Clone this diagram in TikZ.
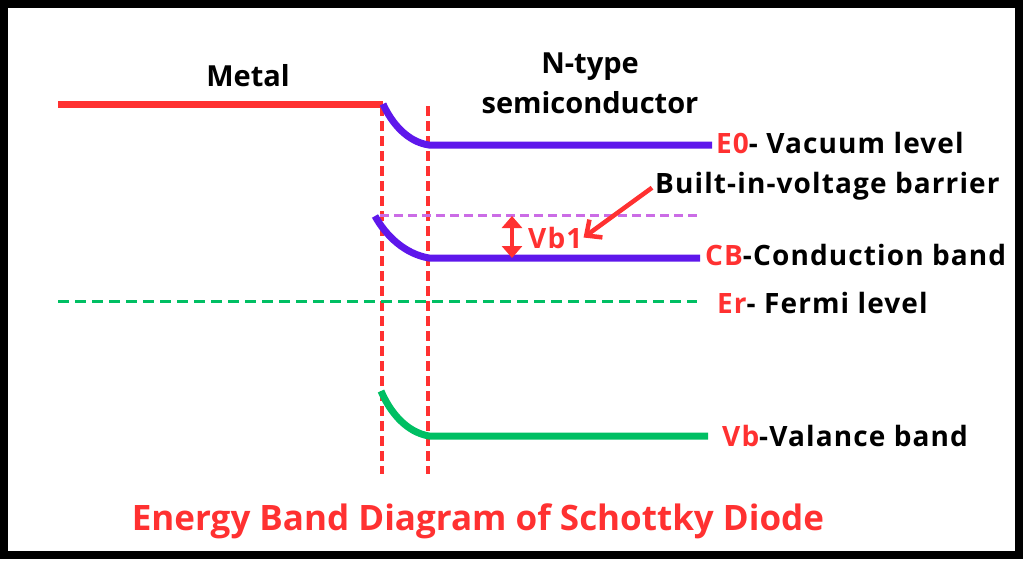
\documentclass[tikz,border=0pt]{standalone}
\usepackage{fontspec}
\setmainfont{Open Sans}
\usetikzlibrary{arrows.meta}
\definecolor{bandRed}{HTML}{FF3131}
\definecolor{bandPurple}{HTML}{5E17EB}
\definecolor{bandGreen}{HTML}{00BF63}
\definecolor{barrierViolet}{HTML}{CB6CE6}
\tikzset{
    bandline/.style={line width=7pt},
    boundary/.style={draw=bandRed,line width=4pt,dash pattern=on 10pt off 5pt},
    levelline/.style={line width=3pt,dash pattern=on 11pt off 6pt},
    levelnote/.style={font=\fontsize{28}{32}\selectfont\bfseries\addfontfeature{LetterSpace=4},
        anchor=base west,inner sep=0pt},
    headnote/.style={font=\fontsize{29}{40}\selectfont\bfseries,
        align=center,inner sep=0pt},
    redarrow/.style={draw=bandRed,line width=4.5pt}
}
\begin{document}
\begin{tikzpicture}[x=1pt,y=-1pt]
    \useasboundingbox (0,0) rectangle (1024,576);
    \draw[line width=8pt] (4,4) rectangle (1019,555);

    % headings
    \node[headnote,anchor=base] (metal) at (248,86) {Metal};
    \node[headnote,anchor=base] (ntype) at (590,73) {N-type};
    \node[headnote,anchor=base] (semi) at (590,113) {semiconductor};

    % key points of the bands
    \coordinate (metalL) at (58,104);
    \coordinate (junction) at (383,104);
    \coordinate (vacBend) at (429,145);
    \coordinate (vacR) at (712,145);
    \coordinate (cbStart) at (375,216);
    \coordinate (cbBend) at (429,258);
    \coordinate (cbR) at (700,258);
    \coordinate (vbStart) at (381,391);
    \coordinate (vbBend) at (429,436);
    \coordinate (vbR) at (708,436);

    % depletion boundaries
    \draw[boundary] (382,106) -- (382,474);
    \draw[boundary] (428,106) -- (428,474);

    % bands
    \draw[bandline,bandRed] (metalL) -- (junction);
    \draw[bandline,bandPurple] (junction) .. controls (392,124) and (408,142) .. (vacBend) -- (vacR);
    \draw[bandline,bandPurple] (cbStart) .. controls (386,236) and (405,254) .. (cbBend) -- (cbR);
    \draw[bandline,bandGreen] (vbStart) .. controls (390,412) and (406,432) .. (vbBend) -- (vbR);

    % reference levels
    \draw[levelline,barrierViolet,dash pattern=on 9pt off 5pt] (380,215) -- (700,215);
    \draw[levelline,bandGreen] (58,301) -- (697,301);

    % labels
    \node[levelnote] (vaclabel) at (716,153) {\textcolor{bandRed}{E0}- Vacuum level};
    \node[levelnote] (builtin) at (655,193) {Built-in-voltage barrier};
    \node[levelnote] (cblabel) at (705,265) {\textcolor{bandRed}{CB}-Conduction band};
    \node[levelnote] (erlabel) at (717,313) {\textcolor{bandRed}{Er}- Fermi level};
    \node[levelnote] (vblabel) at (722,446) {\textcolor{bandRed}{Vb}-Valance band};
    \node[levelnote,text=bandRed] (vbone) at (528,248) {Vb1};

    % barrier height
    \coordinate (barTop) at (512,216);
    \coordinate (barBot) at (512,258);
    \draw[redarrow,{Triangle[width=20pt,length=12pt]}-{Triangle[width=20pt,length=12pt]}] (barTop) -- (barBot);
    \draw[redarrow,-{Straight Barb[width=22pt,length=12pt]}] ([xshift=-3pt,yshift=-2pt]builtin.west) -- ([xshift=1pt]vbone.east);

    \node[font=\fontsize{35}{40}\selectfont\bfseries,text=bandRed,anchor=base,inner sep=0pt]
        (title) at (478,530) {Energy Band Diagram of Schottky Diode};
\end{tikzpicture}
\end{document}
